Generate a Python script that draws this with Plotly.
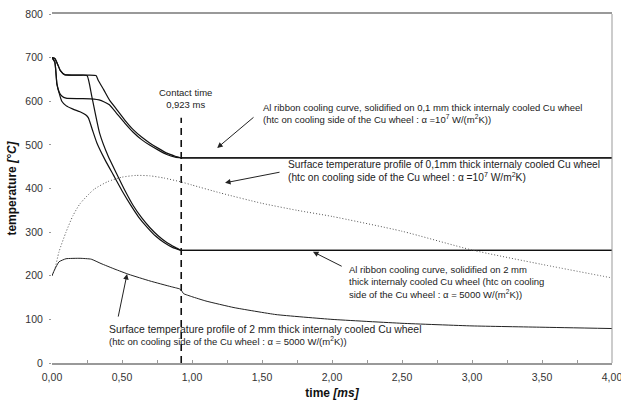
import plotly.graph_objects as go

# --- data -------------------------------------------------------------
# Al ribbon cooling curves on the 0.1 mm wheel (two curves), up to the contact time
t_al01_a = [0.00, 0.02, 0.04, 0.06, 0.09, 0.15, 0.25, 0.314, 0.33, 0.37, 0.41, 0.46, 0.52, 0.58, 0.64, 0.70, 0.76, 0.82, 0.88, 0.923]
T_al01_a = [700, 698, 685, 670, 661, 660, 660, 659, 648, 626, 603, 582, 557, 535, 518, 504, 492, 481, 474, 470]
t_al01_b = [0.00, 0.02, 0.035, 0.05, 0.07, 0.10, 0.20, 0.30, 0.336, 0.37, 0.41, 0.46, 0.52, 0.58, 0.64, 0.70, 0.76, 0.82, 0.88, 0.923]
T_al01_b = [700, 690, 640, 622, 612, 607, 606, 605, 603, 599, 592, 573, 550, 529, 512, 499, 488, 478, 472, 470]

# Al ribbon cooling curves on the 2 mm wheel (two curves), up to the contact time
t_al2_a = [0.00, 0.02, 0.04, 0.06, 0.09, 0.15, 0.20, 0.25, 0.285, 0.34, 0.40, 0.46, 0.52, 0.58, 0.64, 0.70, 0.76, 0.82, 0.88, 0.923]
T_al2_a = [700, 698, 685, 670, 661, 660, 660, 659, 610, 527, 475, 435, 396, 361, 333, 310, 291, 276, 265, 258]
t_al2_b = [0.00, 0.02, 0.035, 0.05, 0.07, 0.10, 0.15, 0.20, 0.24, 0.26, 0.29, 0.32, 0.38, 0.44, 0.50, 0.56, 0.62, 0.68, 0.74, 0.80, 0.86, 0.923]
T_al2_b = [700, 690, 640, 620, 600, 590, 582, 576, 569, 562, 533, 505, 465, 430, 395, 363, 334, 311, 291, 276, 265, 258]

# Wheel surface temperature, 0.1 mm wheel (dotted)
t_surf01 = [0.00, 0.02, 0.05, 0.10, 0.15, 0.20, 0.30, 0.40, 0.50, 0.60, 0.70, 0.80, 0.923, 1.00, 1.20, 1.50, 1.75, 2.00, 2.50, 3.00, 3.50, 4.00]
T_surf01 = [200, 215, 255, 300, 338, 365, 398, 416, 426, 430, 429, 424, 415, 408, 390, 366, 350, 336, 302, 259, 226, 195]

# Wheel surface temperature, 2 mm wheel (thin solid)
t_surf2 = [0.00, 0.02, 0.05, 0.10, 0.20, 0.28, 0.35, 0.45, 0.55, 0.70, 0.85, 0.91, 0.923, 0.94, 1.00, 1.10, 1.30, 1.60, 2.00, 2.50, 3.00, 3.50, 4.00]
T_surf2 = [200, 215, 232, 239, 240, 238, 228, 215, 203, 188, 175, 170, 167, 159, 152, 142, 127, 111, 100, 91, 85, 82, 79]

contact_time = 0.923
t_end = 4.00

x_ticks = [0.0, 0.5, 1.0, 1.5, 2.0, 2.5, 3.0, 3.5, 4.0]
y_ticks = [0, 100, 200, 300, 400, 500, 600, 700, 800]

FONT = "Liberation Sans, Arial, sans-serif"

fig = go.Figure()

ribbon_curves = [(t_al01_a, T_al01_a), (t_al01_b, T_al01_b), (t_al2_a, T_al2_a), (t_al2_b, T_al2_b)]
for tx, ty in ribbon_curves:
    # cooling phase while in contact with the wheel
    fig.add_trace(go.Scatter(x=tx, y=ty, mode="lines",
                             line=dict(color="#111111", width=1.2, shape="spline", smoothing=0.5),
                             showlegend=False, hoverinfo="skip"))
    # ribbon leaves the wheel: temperature held at the last value
    fig.add_trace(go.Scatter(x=[tx[-1], t_end], y=[ty[-1], ty[-1]], mode="lines",
                             line=dict(color="#111111", width=1.2),
                             showlegend=False, hoverinfo="skip"))

fig.add_trace(go.Scatter(x=t_surf01, y=T_surf01, mode="lines",
                         line=dict(color="#555555", width=1, dash="1px,2px", shape="spline", smoothing=0.6),
                         showlegend=False, hoverinfo="skip"))
fig.add_trace(go.Scatter(x=t_surf2, y=T_surf2, mode="lines",
                         line=dict(color="#222222", width=1, shape="spline", smoothing=0.4),
                         showlegend=False, hoverinfo="skip"))

# contact time marker
fig.add_trace(go.Scatter(x=[contact_time, contact_time], y=[0, 562], mode="lines",
                         line=dict(color="#111111", width=1.6, dash="7px,5px"),
                         showlegend=False, hoverinfo="skip"))

# right frame line
fig.add_shape(type="line", xref="paper", yref="paper", x0=1, x1=1, y0=0, y1=1,
              line=dict(color="#999999", width=1))

labels = [
    (0.957, 607, "Contact time<br>0,923 ms", "center", 9.5),
    (1.493, 571, "Al ribbon cooling curve, solidified on 0,1 mm thick internaly cooled Cu wheel<br>"
                 "(htc on cooling side of the Cu wheel : α =10<sup>7</sup> W/(m<sup>2</sup>K))", "left", 9.5),
    (1.671, 441, "Surface temperature profile of 0,1mm thick internaly cooled Cu wheel<br>"
                 "(htc on cooling side of the Cu wheel : α =10<sup>7</sup> W/m<sup>2</sup>K)", "left", 10.2),
    (2.107, 186, "Al ribbon cooling curve, solidified on 2 mm<br>thick internaly cooled Cu wheel (htc on cooling<br>"
                 "side of the Cu wheel : α = 5000 W/(m<sup>2</sup>K))", "left", 9.5),
    (0.393, 64, "<span style='font-size:10.4px'>Surface temperature profile of 2 mm thick internaly cooled Cu wheel</span><br>"
                "(htc on cooling side of the Cu wheel : α = 5000 W/(m<sup>2</sup>K))", "left", 9.5),
]
for x, y, txt, anchor, size in labels:
    fig.add_annotation(x=x, y=y, text=txt, showarrow=False, xanchor=anchor, yanchor="middle",
                       align=anchor, font=dict(family=FONT, size=size, color="#222222"))

arrows = [
    (1.18, 493, 1.45, 566),
    (1.236, 413, 1.636, 438),
    (1.864, 255, 2.08, 220),
    (0.536, 204, 0.471, 103),
]
for hx, hy, tx, ty in arrows:
    fig.add_annotation(x=hx, y=hy, ax=tx, ay=ty, xref="x", yref="y", axref="x", ayref="y",
                       text="", showarrow=True, arrowhead=2, arrowsize=1.1, arrowwidth=1,
                       arrowcolor="#222222")

fig.update_layout(
    width=621, height=401,
    margin=dict(l=52, r=9, t=14, b=38),
    paper_bgcolor="white", plot_bgcolor="white",
    separators=",.",
    font=dict(family=FONT, color="#333333"),
    xaxis=dict(range=[0, 4], tickvals=x_ticks, tickformat=".2f", showgrid=False, zeroline=False,
               automargin=False,
               showline=True, linecolor="#999999", linewidth=1.5, mirror=True,
               ticks="inside", ticklen=3, tickcolor="#999999", ticklabeloverflow="allow",
               ticklabelstandoff=4,
               minor=dict(dtick=0.25, ticks="inside", ticklen=3, tickcolor="#999999"),
               tickfont=dict(size=10.5, color="#333333"),
               title=dict(text="<b>time <i>[ms]</i></b>", font=dict(size=12, color="#111111"), standoff=6)),
    yaxis=dict(range=[0, 800], tickvals=y_ticks, showgrid=False, zeroline=False, showline=False,
               automargin=False,
               ticks="outside", ticklen=2, tickcolor="#999999", ticklabelstandoff=4,
               tickfont=dict(size=10.5, color="#333333"),
               title=dict(text="<b>temperature <i>[°C]</i></b>", font=dict(size=12, color="#111111"), standoff=6)),
)

fig.write_html("out.html")
